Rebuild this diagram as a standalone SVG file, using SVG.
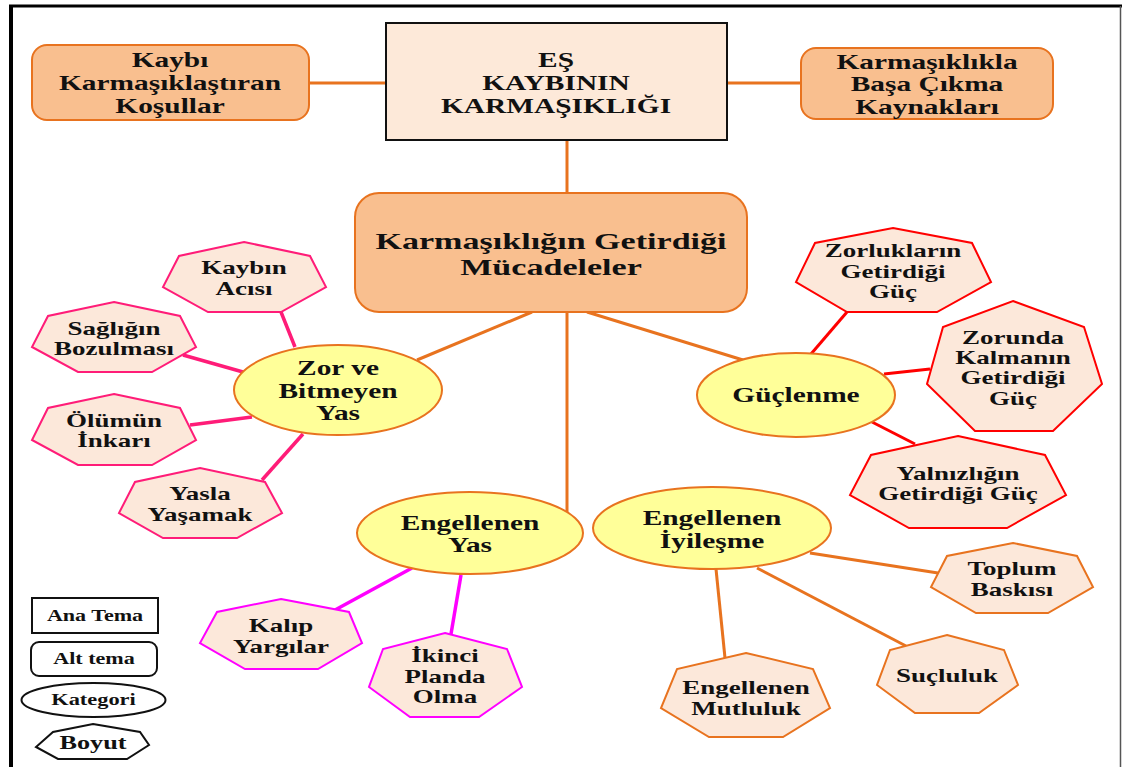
<svg xmlns="http://www.w3.org/2000/svg" width="1122" height="767" viewBox="0 0 1122 767">
<style>
text{font-family:"Liberation Serif","Times New Roman",serif;font-weight:bold;text-anchor:middle;dominant-baseline:central;fill:#111}
.f24{font-size:24px}.f21{font-size:21px}.f20{font-size:20px}.f19{font-size:19px}.f16{font-size:16px}
.obox{fill:#F9BF8F;stroke:#E8731F;stroke-width:2}
.main{fill:#FDE9D9;stroke:#111;stroke-width:2}
.ell{fill:#FFFF99;stroke:#E8731F;stroke-width:2}
.hp{fill:#FCE8DA;stroke:#FF1C78;stroke-width:2}
.hr{fill:#FCE8DA;stroke:#FF0000;stroke-width:2}
.hm{fill:#FCE8DA;stroke:#FF00FF;stroke-width:2}
.ho{fill:#FCE8DA;stroke:#E8731F;stroke-width:2}
.lg{fill:#fff;stroke:#111;stroke-width:2}
.co{stroke:#E8731F;stroke-width:3;fill:none}
.cp{stroke:#FF1C78;stroke-width:3.5;fill:none}
.cr{stroke:#FF0000;stroke-width:3;fill:none}
.cm{stroke:#FF00FF;stroke-width:3.5;fill:none}
</style>
<rect x="0" y="0" width="1122" height="767" fill="#fff"/>
<g id="frame">
<line x1="11" y1="5" x2="11" y2="767" stroke="#000" stroke-width="4"/>
<line x1="9" y1="6" x2="1122" y2="6" stroke="#000" stroke-width="3"/>
<line x1="1120.5" y1="6" x2="1120.5" y2="767" stroke="#555" stroke-width="1.5"/>
</g>
<g id="connectors">
<line class="co" x1="309" y1="83" x2="386" y2="83"/>
<line class="co" x1="727" y1="83" x2="801" y2="83"/>
<line class="co" x1="567" y1="140" x2="567" y2="193"/>
<line class="co" x1="532" y1="312" x2="417" y2="360"/>
<line class="co" x1="567" y1="312" x2="567" y2="513"/>
<line class="co" x1="587" y1="312" x2="743" y2="360"/>
<line class="co" x1="716" y1="569" x2="725" y2="658"/>
<line class="co" x1="810" y1="553" x2="938" y2="573"/>
<line class="co" x1="757" y1="568" x2="906" y2="646"/>
<line class="cp" x1="281" y1="312" x2="295" y2="347"/>
<line class="cp" x1="183" y1="355" x2="243" y2="372"/>
<line class="cp" x1="190" y1="425" x2="252" y2="417"/>
<line class="cp" x1="262" y1="480" x2="303" y2="434"/>
<line class="cr" x1="847" y1="312" x2="811" y2="354"/>
<line class="cr" x1="884" y1="374" x2="930" y2="369"/>
<line class="cr" x1="872" y1="422" x2="915" y2="444"/>
<line class="cm" x1="412" y1="568" x2="335" y2="610"/>
<line class="cm" x1="461" y1="575" x2="451" y2="634"/>
</g>
<g id="kosullar">
<rect class="obox" x="32" y="45" width="277" height="75" rx="15"/>
<g transform="translate(170 0) scale(1.4 1)" class="f21"><text y="60">Kaybı</text><text y="83">Karmaşıklaştıran</text><text y="106">Koşullar</text></g>
</g>
<g id="ana-tema">
<rect class="main" x="386" y="23" width="341" height="117"/>
<g transform="translate(556 0) scale(1.47 1)" class="f20"><text y="60">EŞ</text><text y="83">KAYBININ</text><text y="106">KARMAŞIKLIĞI</text></g>
</g>
<g id="kaynaklar">
<rect class="obox" x="801" y="48" width="252" height="71" rx="15"/>
<g transform="translate(927 0) scale(1.4 1)" class="f21"><text y="62">Karmaşıklıkla</text><text y="84">Başa Çıkma</text><text y="107">Kaynakları</text></g>
</g>
<g id="mucadeleler">
<rect class="obox" x="355" y="193" width="392" height="119" rx="24"/>
<g transform="translate(551 0) scale(1.42 1)" class="f24"><text y="241">Karmaşıklığın Getirdiği</text><text y="267">Mücadeleler</text></g>
</g>
<g id="zor-ve-bitmeyen-yas">
<ellipse class="ell" cx="338" cy="390" rx="104" ry="45"/>
<g transform="translate(338 0) scale(1.4 1)" class="f21"><text y="368">Zor ve</text><text y="391">Bitmeyen</text><text y="413">Yas</text></g>
</g>
<g id="guclenme">
<ellipse class="ell" cx="796" cy="395" rx="99" ry="42"/>
<g transform="translate(796 0) scale(1.4 1)" class="f21"><text y="395">Güçlenme</text></g>
</g>
<g id="engellenen-yas">
<ellipse class="ell" cx="470" cy="533" rx="113" ry="41"/>
<g transform="translate(470 0) scale(1.4 1)" class="f21"><text y="523">Engellenen</text><text y="545">Yas</text></g>
</g>
<g id="engellenen-iyilesme">
<ellipse class="ell" cx="712" cy="528" rx="119" ry="41"/>
<g transform="translate(712 0) scale(1.4 1)" class="f21"><text y="518">Engellenen</text><text y="541">İyileşme</text></g>
</g>
<g id="kaybin-acisi">
<polygon class="hp" points="244,242 310,256 326,287 281,312 208,312 163,287 179,256"/>
<g transform="translate(244 0) scale(1.42 1)" class="f19"><text y="267">Kaybın</text><text y="288">Acısı</text></g>
</g>
<g id="sagligin-bozulmasi">
<polygon class="hp" points="114,302 180,316 196,347 152,372 78,372 32,347 48,316"/>
<g transform="translate(114 0) scale(1.42 1)" class="f19"><text y="328">Sağlığın</text><text y="348">Bozulması</text></g>
</g>
<g id="olumun-inkari">
<polygon class="hp" points="114,394 180,408 196,440 152,465 78,465 32,440 48,408"/>
<g transform="translate(114 0) scale(1.42 1)" class="f19"><text y="420">Ölümün</text><text y="440">İnkarı</text></g>
</g>
<g id="yasla-yasamak">
<polygon class="hp" points="200,468 265,482 282,513 237,538 163,538 119,513 135,482"/>
<g transform="translate(200 0) scale(1.42 1)" class="f19"><text y="493">Yasla</text><text y="514">Yaşamak</text></g>
</g>
<g id="zorluklarin-gucu">
<polygon class="hr" points="893,228 972,243 991,282 937,312 847,312 796,282 815,243"/>
<g transform="translate(893 0) scale(1.42 1)" class="f19"><text y="250">Zorlukların</text><text y="271">Getirdiği</text><text y="291">Güç</text></g>
</g>
<g id="zorunda-kalmanin-gucu">
<polygon class="hr" points="1013,301 1084,327 1102,384 1053,431 975,431 927,384 943,327"/>
<g transform="translate(1013 0) scale(1.42 1)" class="f19"><text y="337">Zorunda</text><text y="357">Kalmanın</text><text y="377">Getirdiği</text><text y="398">Güç</text></g>
</g>
<g id="yalnizligin-gucu">
<polygon class="hr" points="958,436 1045,455 1066,495 1007,528 909,528 850,495 871,455"/>
<g transform="translate(958 0) scale(1.42 1)" class="f19"><text y="473">Yalnızlığın</text><text y="493">Getirdiği Güç</text></g>
</g>
<g id="kalip-yargilar">
<polygon class="hm" points="281,599 349,612 362,643 318,669 245,669 200,643 217,612"/>
<g transform="translate(281 0) scale(1.42 1)" class="f19"><text y="625">Kalıp</text><text y="646">Yargılar</text></g>
</g>
<g id="ikinci-planda-olma">
<polygon class="hm" points="445,633 507,649 522,687 479,717 410,717 369,687 383,649"/>
<g transform="translate(445 0) scale(1.42 1)" class="f19"><text y="655">İkinci</text><text y="676">Planda</text><text y="696">Olma</text></g>
</g>
<g id="engellenen-mutluluk">
<polygon class="ho" points="746,653 813,669 830,708 783,737 709,737 661,708 677,669"/>
<g transform="translate(746 0) scale(1.42 1)" class="f19"><text y="687">Engellenen</text><text y="708">Mutluluk</text></g>
</g>
<g id="toplum-baskisi">
<polygon class="ho" points="1013,543 1077,556 1093,587 1048,613 976,613 931,587 947,556"/>
<g transform="translate(1012 0) scale(1.42 1)" class="f19"><text y="568">Toplum</text><text y="589">Baskısı</text></g>
</g>
<g id="sucluluk">
<polygon class="ho" points="947,635 1004,650 1018,685 979,713 915,713 877,685 890,650"/>
<g transform="translate(947 0) scale(1.42 1)" class="f19"><text y="675">Suçluluk</text></g>
</g>
<g id="legend-ana-tema">
<rect class="lg" x="32" y="598" width="126" height="35"/>
<g transform="translate(95 0) scale(1.38 1)" class="f16"><text y="616">Ana Tema</text></g>
</g>
<g id="legend-alt-tema">
<rect class="lg" x="31" y="642" width="126" height="34" rx="8"/>
<g transform="translate(94 0) scale(1.38 1)" class="f16"><text y="659">Alt tema</text></g>
</g>
<g id="legend-kategori">
<ellipse class="lg" cx="93.5" cy="700" rx="72" ry="17"/>
<g transform="translate(93.5 0) scale(1.4 1)" class="f16"><text y="700">Kategori</text></g>
</g>
<g id="legend-boyut">
<polygon class="lg" points="93,724 140,732 149,745 127,759 58,759 36,747 53,732"/>
<g transform="translate(93 0) scale(1.38 1)" class="f19"><text y="743">Boyut</text></g>
</g>
</svg>
